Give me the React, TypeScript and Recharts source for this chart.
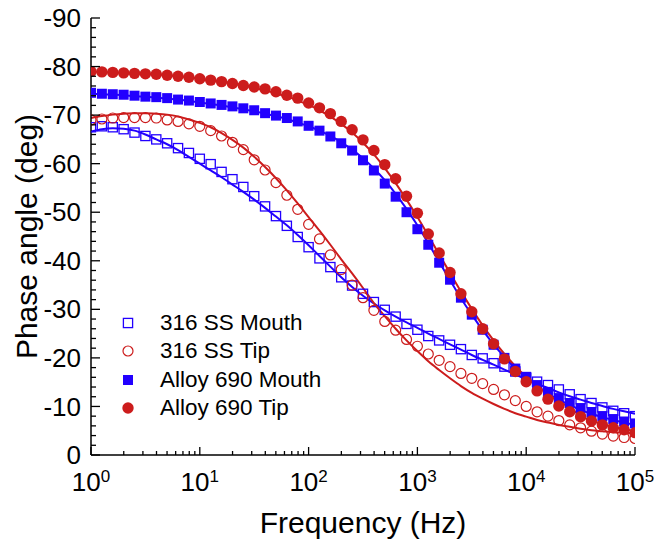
import React from 'react'
import { ComposedChart, Line, XAxis, YAxis, Legend } from 'recharts'

// frequency grid, 10 points per decade
const FREQ = [
  1, 1.259, 1.585, 1.995, 2.512, 3.162, 3.981, 5.012, 6.31, 7.943,
  10, 12.59, 15.85, 19.95, 25.12, 31.62, 39.81, 50.12, 63.1, 79.43,
  100, 125.9, 158.5, 199.5, 251.2, 316.2, 398.1, 501.2, 631, 794.3,
  1000, 1259, 1585, 1995, 2512, 3162, 3981, 5012, 6310, 7943,
  10000, 12590, 15850, 19950, 25120, 31620, 39810, 50120, 63100, 79430,
  100000
]

// measured phase (deg)
const SS_MOUTH = [
  -67.5, -67.7, -67.5, -67.1, -66.4, -65.7, -65.0, -64.2, -63.2, -62.2,
  -61.0, -59.9, -58.3, -56.8, -55.2, -53.3, -51.2, -49.2, -47.2, -44.9,
  -42.8, -40.5, -38.7, -36.6, -34.9, -33.2, -31.5, -29.9, -28.5, -27.0,
  -25.8, -24.5, -23.6, -22.7, -21.8, -20.6, -19.9, -18.9, -18.2, -17.2,
  -15.9, -15.1, -14.4, -13.5, -12.5, -11.5, -10.7, -9.8, -9.1, -8.6,
  -8.0
]
const SS_TIP = [
  -69.0, -69.2, -69.4, -69.5, -69.5, -69.5, -69.4, -69.0, -68.7, -68.2,
  -67.7, -66.8, -65.7, -64.4, -62.9, -60.8, -58.7, -56.1, -53.5, -50.6,
  -47.5, -44.5, -41.2, -38.2, -35.0, -32.4, -29.8, -27.5, -25.7, -23.8,
  -22.4, -20.8, -19.5, -18.2, -16.8, -15.8, -14.7, -13.5, -12.4, -11.2,
  -10.0, -8.9, -8.0, -7.1, -6.2, -5.6, -4.9, -4.3, -3.9, -3.6,
  -3.4
]
const AL_MOUTH = [
  -74.6, -74.4, -74.3, -74.2, -74.0, -73.8, -73.7, -73.5, -73.2, -73.0,
  -72.7, -72.4, -72.1, -71.8, -71.4, -71.0, -70.4, -69.9, -69.4, -68.7,
  -67.8, -66.8, -65.6, -64.2, -62.7, -60.7, -58.6, -55.9, -53.2, -50.0,
  -46.5, -43.3, -39.6, -36.1, -32.4, -28.9, -25.8, -22.7, -20.0, -17.8,
  -16.1, -14.4, -13.0, -11.7, -10.7, -9.6, -8.7, -8.0, -7.4, -6.9,
  -6.5
]
const AL_TIP = [
  -79.0, -78.9, -78.8, -78.7, -78.6, -78.5, -78.4, -78.2, -78.0, -77.8,
  -77.5, -77.2, -76.9, -76.5, -76.1, -75.8, -75.4, -74.8, -74.1, -73.5,
  -72.5, -71.5, -70.3, -68.7, -67.0, -64.9, -62.7, -59.8, -56.9, -53.3,
  -49.8, -45.5, -41.6, -37.6, -33.2, -29.5, -26.0, -22.9, -19.8, -17.2,
  -15.1, -13.2, -11.5, -10.1, -8.9, -7.9, -7.0, -6.2, -5.6, -5.2,
  -4.6
]

// fitted curves (deg)
const SS_MOUTH_FIT = [
  -66.6, -67.1, -67.3, -67.2, -66.8, -66.0, -65.0, -64.0, -62.8, -61.4,
  -60.0, -58.6, -57.2, -55.7, -54.2, -52.6, -50.9, -49.1, -47.3, -45.3,
  -43.2, -41.0, -38.8, -36.6, -34.6, -32.8, -31.2, -29.8, -28.5, -27.3,
  -26.2, -25.0, -23.9, -22.8, -21.7, -20.6, -19.6, -18.6, -17.6, -16.6,
  -15.6, -14.7, -13.8, -12.9, -12.1, -11.4, -10.7, -10.1, -9.5, -9.0,
  -8.5
]
const SS_TIP_FIT = [
  -69.4, -69.8, -70.1, -70.3, -70.4, -70.4, -70.3, -70.1, -69.7, -69.1,
  -68.4, -67.5, -66.3, -64.9, -63.3, -61.4, -59.3, -57.0, -54.5, -51.8,
  -49.0, -46.2, -43.3, -40.3, -37.4, -34.4, -31.3, -28.6, -26.0, -23.6,
  -21.4, -19.3, -17.5, -15.8, -14.2, -12.8, -11.6, -10.5, -9.5, -8.6,
  -7.9, -7.2, -6.7, -6.2, -5.8, -5.4, -5.1, -4.9, -4.7, -4.6,
  -4.5
]
const AL_MOUTH_FIT = [
  -74.4, -74.3, -74.2, -74.1, -73.9, -73.8, -73.6, -73.4, -73.2, -72.9,
  -72.6, -72.3, -72.0, -71.6, -71.2, -70.8, -70.3, -69.8, -69.2, -68.5,
  -67.7, -66.8, -65.7, -64.4, -62.9, -61.1, -59.0, -56.6, -53.8, -50.7,
  -47.3, -43.6, -39.8, -36.0, -32.3, -28.9, -25.7, -22.8, -20.2, -17.9,
  -15.9, -14.2, -12.7, -11.4, -10.3, -9.3, -8.5, -7.8, -7.2, -6.7,
  -6.2
]
const AL_TIP_FIT = [
  -79.0, -78.9, -78.8, -78.7, -78.6, -78.5, -78.4, -78.2, -78.0, -77.8,
  -77.5, -77.2, -76.9, -76.5, -76.1, -75.6, -75.1, -74.5, -73.8, -73.0,
  -72.1, -71.0, -69.7, -68.2, -66.4, -64.3, -61.9, -59.1, -56.0, -52.6,
  -49.0, -45.2, -41.3, -37.5, -33.7, -30.1, -26.7, -23.6, -20.8, -18.3,
  -16.1, -14.2, -12.5, -11.0, -9.8, -8.0, -7.1, -6.4, -5.8, -5.3,
  -4.9
]

const X_TICKS = [
  1, 2, 3, 4, 5, 6, 7, 8, 9,
  10, 20, 30, 40, 50, 60, 70, 80, 90,
  100, 200, 300, 400, 500, 600, 700, 800, 900,
  1000, 2000, 3000, 4000, 5000, 6000, 7000, 8000, 9000,
  10000, 20000, 30000, 40000, 50000, 60000, 70000, 80000, 90000,
  100000
]
const Y_TICKS = [
  -90, -88, -86, -84, -82, -80, -78, -76, -74, -72,
  -70, -68, -66, -64, -62, -60, -58, -56, -54, -52,
  -50, -48, -46, -44, -42, -40, -38, -36, -34, -32,
  -30, -28, -26, -24, -22, -20, -18, -16, -14, -12,
  -10, -8, -6, -4, -2, 0
]

const LEGEND_LABELS = ['316 SS Mouth', '316 SS Tip', 'Alloy 690 Mouth', 'Alloy 690 Tip']

const BLUE = '#2200ff'
const RED = '#cc1c1c'
const FONT = '"Liberation Sans", Arial, sans-serif'

const data = FREQ.map((f, i) => ({
  f,
  ssMouth: SS_MOUTH[i],
  ssTip: SS_TIP[i],
  alMouth: AL_MOUTH[i],
  alTip: AL_TIP[i],
  ssMouthFit: SS_MOUTH_FIT[i],
  ssTipFit: SS_TIP_FIT[i],
  alMouthFit: AL_MOUTH_FIT[i],
  alTipFit: AL_TIP_FIT[i]
}))

type Shape = 'square' | 'circle'

const Marker = ({ cx, cy, shape, filled, color }: { cx: number; cy: number; shape: Shape; filled: boolean; color: string }) => {
  if (cx == null || cy == null) return null
  if (shape === 'square') {
    return filled
      ? <rect x={cx - 5} y={cy - 5} width={10} height={10} fill={color} />
      : <rect x={cx - 4.6} y={cy - 4.6} width={9.2} height={9.2} fill="none" stroke={color} strokeWidth={1.3} />
  }
  return filled
    ? <circle cx={cx} cy={cy} r={5.7} fill={color} />
    : <circle cx={cx} cy={cy} r={5} fill="none" stroke={color} strokeWidth={1.2} />
}

const dotFor = (name: string, shape: Shape, filled: boolean, color: string) => (props: any) => (
  <Marker key={`${name}-${props.index}`} cx={props.cx} cy={props.cy} shape={shape} filled={filled} color={color} />
)

const XTick = ({ x, y, payload }: any) => {
  const v = payload.value
  const exp = Math.log10(v)
  const major = Math.abs(exp - Math.round(exp)) < 1e-6
  return (
    <g>
      <line x1={x} x2={x} y1={y} y2={y - (major ? 8 : 4)} stroke="#000" strokeWidth={1.3} />
      {major && (
        <text x={x} y={y + 36} textAnchor="middle" fontSize={26} fill="#000" fontFamily={FONT}>
          10<tspan dy={-9} fontSize={17}>{Math.round(exp)}</tspan>
        </text>
      )}
    </g>
  )
}

const YTick = ({ x, y, payload }: any) => {
  const v = payload.value
  const major = v % 10 === 0
  return (
    <g>
      <line x1={x} x2={x + (major ? 9 : 5)} y1={y} y2={y} stroke="#000" strokeWidth={1.3} />
      {major && (
        <text x={x - 10} y={y} dy="0.35em" textAnchor="end" fontSize={26} fill="#000" fontFamily={FONT}>
          {v}
        </text>
      )}
    </g>
  )
}

const LEGEND_STYLE: { shape: Shape; filled: boolean; color: string }[] = [
  { shape: 'square', filled: false, color: BLUE },
  { shape: 'circle', filled: false, color: RED },
  { shape: 'square', filled: true, color: BLUE },
  { shape: 'circle', filled: true, color: RED }
]

const LegendBox = () => (
  <div style={{ fontFamily: FONT, fontSize: 22.5, color: '#000' }}>
    {LEGEND_LABELS.map((label, i) => (
      <div key={label} style={{ display: 'flex', alignItems: 'center', height: 28.3 }}>
        <svg width={24} height={24}>
          <Marker cx={12} cy={12} shape={LEGEND_STYLE[i].shape} filled={LEGEND_STYLE[i].filled} color={LEGEND_STYLE[i].color} />
        </svg>
        <span style={{ marginLeft: 20, lineHeight: '28px' }}>{label}</span>
      </div>
    ))}
  </div>
)

export default function App() {
  return (
    <div style={{ position: 'absolute', left: 0, top: 0, fontFamily: FONT }}>
      <ComposedChart
        width={656}
        height={549}
        data={data}
        margin={{ top: 18, right: 21, left: 0, bottom: 0 }}
      >
        <XAxis
          dataKey="f"
          type="number"
          scale="log"
          domain={[1, 100000]}
          allowDataOverflow
          ticks={X_TICKS}
          interval={0}
          height={94}
          tick={<XTick />}
          tickLine={false}
          tickSize={0}
          tickMargin={0}
          axisLine={{ stroke: '#000', strokeWidth: 1.5 }}
          label={{
            value: 'Frequency (Hz)',
            position: 'insideBottom',
            offset: 16,
            style: { fontSize: 30, fill: '#000', fontFamily: FONT }
          }}
        />
        <XAxis
          xAxisId="top"
          dataKey="f"
          type="number"
          scale="log"
          domain={[1, 100000]}
          orientation="top"
          height={0}
          tick={false}
          tickLine={false}
          axisLine={{ stroke: '#000', strokeWidth: 1.5 }}
        />
        <YAxis
          type="number"
          domain={[-90, 0]}
          reversed
          ticks={Y_TICKS}
          interval={0}
          width={91}
          tick={<YTick />}
          tickLine={false}
          tickSize={0}
          tickMargin={0}
          axisLine={{ stroke: '#000', strokeWidth: 1.5 }}
          label={{
            value: 'Phase angle (deg)',
            angle: -90,
            position: 'insideLeft',
            offset: 26,
            style: { textAnchor: 'middle', fontSize: 30, fill: '#000', fontFamily: FONT }
          }}
        />
        <YAxis
          yAxisId="right"
          orientation="right"
          type="number"
          domain={[-90, 0]}
          reversed
          width={0}
          tick={false}
          tickLine={false}
          axisLine={{ stroke: '#000', strokeWidth: 1.5 }}
        />
        <Legend
          layout="vertical"
          align="center"
          verticalAlign="middle"
          content={<LegendBox />}
          wrapperStyle={{ left: 116, top: 309, width: 260 }}
        />

        <Line dataKey="ssMouthFit" type="monotone" stroke={BLUE} strokeWidth={2} dot={false} activeDot={false} legendType="none" isAnimationActive={false} />
        <Line dataKey="ssTipFit" type="monotone" stroke={RED} strokeWidth={2} dot={false} activeDot={false} legendType="none" isAnimationActive={false} />
        <Line dataKey="alMouthFit" type="monotone" stroke={BLUE} strokeWidth={2} dot={false} activeDot={false} legendType="none" isAnimationActive={false} />
        <Line dataKey="alTipFit" type="monotone" stroke={RED} strokeWidth={2} dot={false} activeDot={false} legendType="none" isAnimationActive={false} />

        <Line dataKey="ssMouth" name="316 SS Mouth" stroke="none" dot={dotFor('ssMouth', 'square', false, BLUE)} activeDot={false} isAnimationActive={false} />
        <Line dataKey="ssTip" name="316 SS Tip" stroke="none" dot={dotFor('ssTip', 'circle', false, RED)} activeDot={false} isAnimationActive={false} />
        <Line dataKey="alMouth" name="Alloy 690 Mouth" stroke="none" dot={dotFor('alMouth', 'square', true, BLUE)} activeDot={false} isAnimationActive={false} />
        <Line dataKey="alTip" name="Alloy 690 Tip" stroke="none" dot={dotFor('alTip', 'circle', true, RED)} activeDot={false} isAnimationActive={false} />
      </ComposedChart>
    </div>
  )
}
